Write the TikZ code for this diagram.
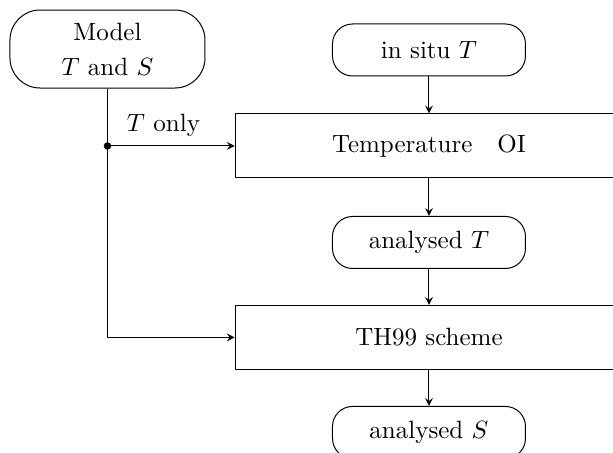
\documentclass[tikz,border=0pt]{standalone}
\usetikzlibrary{arrows}
\tikzset{
  roundbox/.style={draw,rounded corners=8pt,minimum width=77.2pt,minimum height=20.8pt,inner sep=2pt},
  stepbox/.style={draw,minimum width=155pt,minimum height=25.6pt,inner sep=2pt}
}
\begin{document}
\begin{tikzpicture}[>=stealth]
\useasboundingbox (0,0) rectangle (8.618,6.368);

\node[roundbox,rounded corners=12pt,minimum width=78pt,minimum height=31.2pt,align=center]
  (model) at (1.511,5.679) {Model\\[2pt] $T$ and $S$};
\node[roundbox] (insitu) at (6.031,5.665) {in situ $T$};
\node[stepbox] (tempoi) at (6.031,4.316) {Temperature\quad OI};
\node[roundbox] (anat) at (6.031,2.959) {analysed $T$};
\node[stepbox] (th99) at (6.031,1.624) {TH99 scheme};
\node[roundbox] (anas) at (6.031,0.288) {analysed $S$};

% model branch
\coordinate (split) at (model.south |- tempoi.west);
\fill (split) circle (1.5pt);
\draw[->] (split) -- node[above,pos=0.44] {$T$ only} (tempoi.west);
\draw[->] (model.south) |- (th99.west);

% main column
\draw[->] (insitu) -- (tempoi);
\draw[->] (tempoi) -- (anat);
\draw[->] (anat) -- (th99);
\draw[->] (th99) -- (anas);
\end{tikzpicture}
\end{document}
